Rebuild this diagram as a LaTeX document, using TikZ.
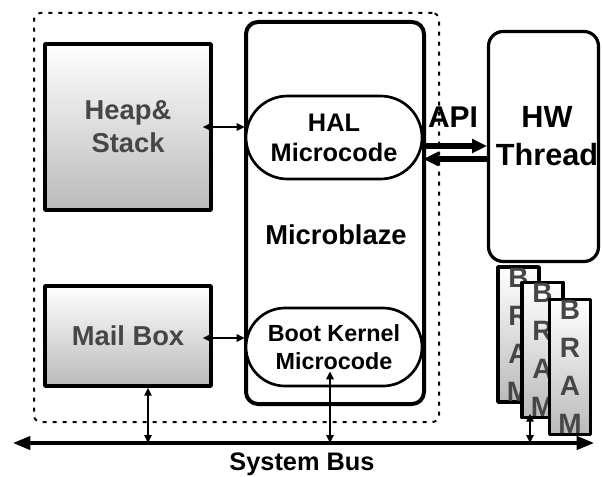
\documentclass[tikz,border=0pt]{standalone}
\usepackage{fontspec}
\setmainfont{Liberation Sans}
\usetikzlibrary{arrows.meta, calc, positioning, shapes.misc}
\definecolor{boxgray}{RGB}{70, 70, 70}
\definecolor{shadegray}{RGB}{186, 186, 186}

\begin{document}
\begin{tikzpicture}[x=0.75pt, y=-0.75pt, line join=round, >=Triangle,
    membox/.style={draw, line width=2.6pt, top color=white, bottom color=shadegray, text=boxgray, align=center, inner sep=0pt},
    capsule/.style={draw, rounded rectangle, line width=2pt, fill=white, align=center, inner sep=0pt, minimum width=132pt},
    bram/.style={membox, minimum width=30.75pt, minimum height=101.25pt, font=\bfseries\fontsize{21}{28.5}\selectfont},
    link/.style={<->, line width=1.4pt, >={Triangle[length=6pt,width=5.5pt]}},
    apiarrow/.style={->, line width=3.8pt, >={Triangle[length=11pt,width=10pt]}}]
    \useasboundingbox (0,0) rectangle (602,477);

    % FPGA region
    \node[draw, line width=1.5pt, dash pattern=on 3pt off 4.5pt, rounded corners=5pt,
          minimum width=303.75pt, minimum height=306.75pt] (fpga) at (236.5,217.5) {};

    % memories
    \node[membox, minimum width=124.5pt, minimum height=124.5pt, font=\bfseries\fontsize{20.5}{25}\selectfont] (heap) at (128,127) {Heap\&\\Stack};
    \node[membox, minimum width=124.5pt, minimum height=75pt, font=\bfseries\fontsize{20.5}{25}\selectfont] (mail) at (128,336) {Mail Box};

    % processor
    \node[draw, line width=3pt, rounded corners=9pt, minimum width=133.5pt, minimum height=286.5pt] (micro) at (335,213) {};
    \node[font=\bfseries\fontsize{20.5}{25}\selectfont] (mbtxt) at (336,234.5) {Microblaze};
    \node[capsule, minimum height=62.25pt, font=\bfseries\fontsize{19}{22.5}\selectfont] (hal) at (334,137.5) {HAL\\Microcode};
    \node[capsule, minimum height=58.5pt, font=\bfseries\fontsize{17.5}{21.5}\selectfont] (boot) at (334,347) {Boot Kernel\\Microcode};

    % hardware thread and its BRAMs
    \node[bram] (bram1) at (518.5,334.5) {B\\R\\A\\M};
    \node[draw, fill=white, line width=2.4pt, rounded corners=11pt, minimum width=82.5pt, minimum height=172.5pt] (hw) at (543.5,146.5) {};
    \node[font=\bfseries\fontsize{23}{28.5}\selectfont, align=center] (hwtxt) at (547,136.5) {HW\\Thread};
    \node[bram] (bram2) at (542.5,350) {B\\R\\A\\M};
    \node[bram] (bram3) at (570,367) {B\\R\\A\\M};

    \node[font=\bfseries\fontsize{22.5}{27}\selectfont] (api) at (453,117.5) {API};
    \draw[apiarrow] ($(hal.east)+(0,8.5)$) coordinate (a1) -- (a1 -| hw.west);
    \draw[apiarrow] ($(hw.west)+(0,12.5)$) coordinate (a2) -- (a2 -| hal.east);

    % links
    \draw[link] ($(heap.east)+(-10,0)$) coordinate (h1) -- (h1 -| hal.west);
    \draw[link] ($(mail.east)+(-10,2)$) coordinate (m1) -- (m1 -| boot.west);

    % system bus
    \coordinate (busL) at (13,443);
    \coordinate (busR) at (594,443);
    \draw[<->, line width=2.4pt, >={Triangle[length=13pt,width=10pt]}] (busL) -- (busR);
    \node[font=\bfseries\fontsize{19}{23}\selectfont] (sysbus) at (302,464) {System Bus};

    \coordinate (mb) at ($(mail.south)+(20,0)$);
    \coordinate (bk) at ($(boot.south)+(-4,-16)$);
    \coordinate (br) at ($(bram2.south)+(-12.5,-5.5)$);
    \draw[link] (mb) -- (mb |- busL);
    \draw[link] (bk) -- (bk |- busL);
    \draw[link] (br) -- (br |- busL);
\end{tikzpicture}
\end{document}
